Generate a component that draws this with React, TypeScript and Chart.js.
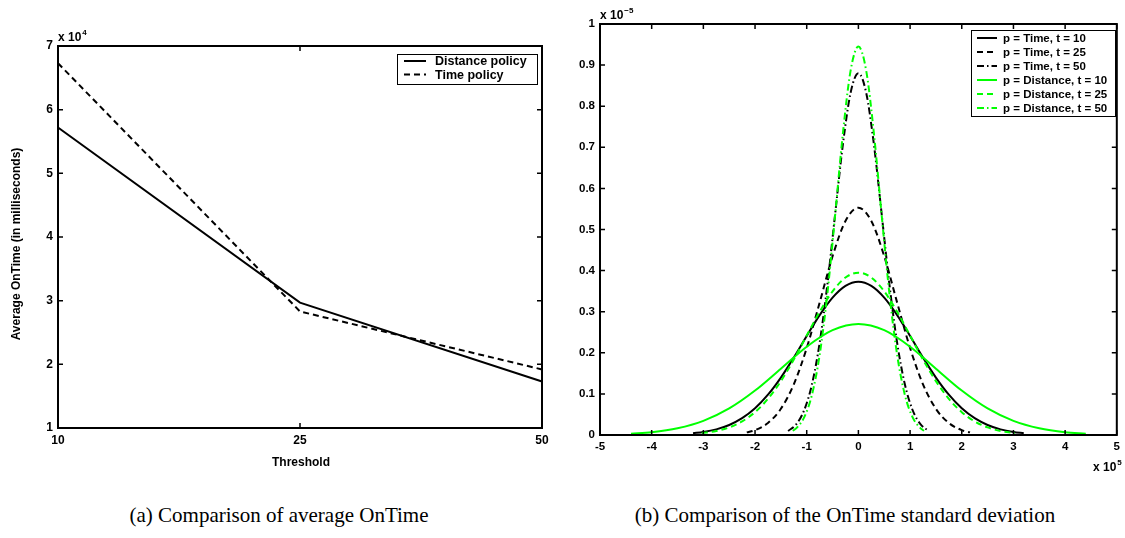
import React, { useEffect, useRef } from "react";
import { Chart, registerables } from "chart.js";

Chart.register(...registerables);

const FONT = '"Liberation Sans", Arial, Helvetica, sans-serif';
const SERIF = '"Liberation Serif", "Times New Roman", Times, serif';

// ---------- (a) Comparison of average OnTime ----------
const thresholdLabels = ["10", "25", "50"];
const distancePolicy = [57200, 29700, 17300];
const timePolicy = [67300, 28300, 19200];

// ---------- (b) OnTime standard deviation (x in 10^5, y in 10^-5) ----------
const timeT10X = [-3.2, -3, -2.75, -2.5, -2.25, -2, -1.75, -1.5, -1.25, -1, -0.75, -0.5, -0.25, 0, 0.25, 0.5, 0.75, 1, 1.25, 1.5, 1.75, 2, 2.25, 2.5, 2.75, 3, 3.2];
const timeT10Y = [0.0043, 0.0073, 0.0137, 0.0244, 0.0409, 0.065, 0.098, 0.1397, 0.1886, 0.241, 0.2918, 0.3344, 0.363, 0.373, 0.363, 0.3344, 0.2918, 0.241, 0.1886, 0.1397, 0.098, 0.065, 0.0409, 0.0244, 0.0137, 0.0073, 0.0043];

const timeT25X = [-2.16, -2, -1.75, -1.5, -1.25, -1, -0.75, -0.5, -0.25, 0, 0.25, 0.5, 0.75, 1, 1.25, 1.5, 1.75, 2, 2.16];
const timeT25Y = [0.0063, 0.0119, 0.0292, 0.0637, 0.1233, 0.2116, 0.3221, 0.4349, 0.5208, 0.553, 0.5208, 0.4349, 0.3221, 0.2116, 0.1233, 0.0637, 0.0292, 0.0119, 0.0063];

const timeT50X = [-1.36, -1.2, -1.05, -0.9, -0.75, -0.6, -0.45, -0.3, -0.15, 0, 0.15, 0.3, 0.45, 0.6, 0.75, 0.9, 1.05, 1.2, 1.36];
const timeT50Y = [0.0098, 0.0265, 0.0602, 0.1227, 0.224, 0.3665, 0.5377, 0.7069, 0.8331, 0.88, 0.8331, 0.7069, 0.5377, 0.3665, 0.224, 0.1227, 0.0602, 0.0265, 0.0098];

const distT10X = [-4.4, -4, -3.5, -3, -2.5, -2, -1.5, -1, -0.5, 0, 0.5, 1, 1.5, 2, 2.5, 3, 3.5, 4, 4.4];
const distT10Y = [0.0032, 0.0069, 0.0164, 0.0344, 0.0646, 0.1081, 0.1613, 0.2148, 0.255, 0.27, 0.255, 0.2148, 0.1613, 0.1081, 0.0646, 0.0344, 0.0164, 0.0069, 0.0032];

const distT25X = [-3.03, -2.75, -2.5, -2.25, -2, -1.75, -1.5, -1.25, -1, -0.75, -0.5, -0.25, 0, 0.25, 0.5, 0.75, 1, 1.25, 1.5, 1.75, 2, 2.25, 2.5, 2.75, 3.03];
const distT25Y = [0.0044, 0.0097, 0.0185, 0.033, 0.0556, 0.088, 0.1311, 0.1836, 0.2419, 0.2998, 0.3495, 0.3831, 0.395, 0.3831, 0.3495, 0.2998, 0.2419, 0.1836, 0.1311, 0.088, 0.0556, 0.033, 0.0185, 0.0097, 0.0044];

const distT50X = [-1.27, -1.2, -1.05, -0.9, -0.75, -0.6, -0.45, -0.3, -0.15, 0, 0.15, 0.3, 0.45, 0.6, 0.75, 0.9, 1.05, 1.2, 1.27];
const distT50Y = [0.0102, 0.0166, 0.0428, 0.0972, 0.1948, 0.344, 0.5352, 0.734, 0.8872, 0.945, 0.8872, 0.734, 0.5352, 0.344, 0.1948, 0.0972, 0.0428, 0.0166, 0.0102];

const captionA = "(a) Comparison of average OnTime";
const captionB = "(b) Comparison of the OnTime standard deviation";

const pts = (xs: number[], ys: number[]) => xs.map((x, i) => ({ x, y: ys[i] }));

const GREEN = "#00ff00";
const DASH = [6, 4];
const DASHDOT = [7, 3, 1.5, 3];

const decoPlugin = {
  id: "deco",
  afterDraw(chart: any, _args: any, opts: any) {
    const ctx: CanvasRenderingContext2D = chart.ctx;
    const { left, right, top, bottom } = chart.chartArea;
    ctx.save();
    ctx.strokeStyle = "#000";
    ctx.setLineDash([]);
    ctx.lineWidth = 1.5;
    const tl = 5;
    const xs = chart.scales.x;
    const ys = chart.scales.y;
    ctx.beginPath();
    xs.ticks.forEach((_t: any, i: number) => {
      const p = xs.getPixelForTick(i);
      ctx.moveTo(p, bottom);
      ctx.lineTo(p, bottom - tl);
      ctx.moveTo(p, top);
      ctx.lineTo(p, top + tl);
    });
    ys.ticks.forEach((_t: any, i: number) => {
      const p = ys.getPixelForTick(i);
      ctx.moveTo(left, p);
      ctx.lineTo(left + tl, p);
      ctx.moveTo(right, p);
      ctx.lineTo(right - tl, p);
    });
    ctx.stroke();
    ctx.lineWidth = 2;
    ctx.strokeRect(left, top, right - left, bottom - top);

    // exponent labels
    ctx.fillStyle = "#000";
    (opts.exps || []).forEach((e: any) => {
      ctx.font = `bold 12px ${FONT}`;
      ctx.textAlign = "left";
      ctx.textBaseline = "alphabetic";
      ctx.fillText(e.base, e.x, e.y);
      const w = ctx.measureText(e.base).width;
      ctx.font = `bold 8px ${FONT}`;
      ctx.fillText(e.sup, e.x + w + 1, e.y - 6);
    });

    // axis titles
    (opts.titles || []).forEach((t: any) => {
      ctx.save();
      ctx.font = `bold 12px ${FONT}`;
      ctx.textAlign = "center";
      ctx.textBaseline = "middle";
      ctx.translate(t.x, t.y);
      if (t.rotate) ctx.rotate(-Math.PI / 2);
      ctx.fillText(t.text, 0, 0);
      ctx.restore();
    });

    // legend
    const lg = opts.legend;
    if (lg) {
      ctx.fillStyle = "#fff";
      ctx.fillRect(lg.x, lg.y, lg.w, lg.h);
      ctx.lineWidth = 1;
      ctx.strokeStyle = "#000";
      ctx.strokeRect(lg.x + 0.5, lg.y + 0.5, lg.w, lg.h);
      chart.data.datasets.forEach((ds: any, i: number) => {
        const y = lg.row0 + i * lg.step;
        ctx.beginPath();
        ctx.setLineDash(ds.borderDash || []);
        ctx.strokeStyle = ds.borderColor;
        ctx.lineWidth = 2;
        ctx.moveTo(lg.s0, y);
        ctx.lineTo(lg.s1, y);
        ctx.stroke();
        ctx.setLineDash([]);
        ctx.fillStyle = "#000";
        ctx.font = `bold ${lg.size}px ${FONT}`;
        ctx.textAlign = "left";
        ctx.textBaseline = "middle";
        ctx.fillText(ds.label, lg.tx, y + 0.5);
      });
    }
    ctx.restore();
  },
};

const tickFont = (size: number) => ({ family: FONT, size, weight: "bold" as const });

const leftConfig: any = {
  type: "line",
  data: {
    labels: thresholdLabels,
    datasets: [
      { label: "Distance policy", data: distancePolicy, borderColor: "#000", borderWidth: 2, pointRadius: 0, tension: 0 },
      { label: "Time policy", data: timePolicy, borderColor: "#000", borderWidth: 2, borderDash: DASH, pointRadius: 0, tension: 0 },
    ],
  },
  options: {
    animation: false,
    responsive: false,
    devicePixelRatio: 1,
    layout: { padding: { top: 46, right: 18, left: 0, bottom: 0 } },
    plugins: {
      legend: { display: false },
      tooltip: { enabled: false },
      deco: {
        exps: [{ base: "x 10", sup: "4", x: 58, y: 41 }],
        titles: [
          { text: "Threshold", x: 301, y: 463 },
          { text: "Average OnTime (in milliseconds)", x: 17, y: 244, rotate: true },
        ],
        legend: { x: 397, y: 54, w: 140, h: 30, row0: 61, step: 13.6, s0: 404, s1: 426, tx: 435, size: 12.5 },
      },
    },
    scales: {
      x: {
        type: "category",
        offset: false,
        grid: { display: false, drawTicks: false },
        border: { display: false },
        ticks: { color: "#000", font: tickFont(12), padding: 5, maxRotation: 0, autoSkip: false },
        afterFit: (s: any) => { s.height = 52; },
      },
      y: {
        min: 10000,
        max: 70000,
        grid: { display: false, drawTicks: false },
        border: { display: false },
        ticks: { color: "#000", font: tickFont(12), padding: 5, stepSize: 10000, callback: (v: any) => String(Math.round(v / 10000)) },
        afterFit: (s: any) => { s.width = 58; },
      },
    },
  },
  plugins: [decoPlugin],
};

const curve = (label: string, xs: number[], ys: number[], color: string, dash: number[], order: number) => ({
  label,
  data: pts(xs, ys),
  borderColor: color,
  borderWidth: 2,
  borderDash: dash,
  pointRadius: 0,
  cubicInterpolationMode: "monotone",
  fill: false,
  order,
});

const rightConfig: any = {
  type: "line",
  data: {
    datasets: [
      curve("p = Time, t = 10", timeT10X, timeT10Y, "#000", [], 6),
      curve("p = Time, t = 25", timeT25X, timeT25Y, "#000", DASH, 5),
      curve("p = Time, t = 50", timeT50X, timeT50Y, "#000", DASHDOT, 4),
      curve("p = Distance, t = 10", distT10X, distT10Y, GREEN, [], 3),
      curve("p = Distance, t = 25", distT25X, distT25Y, GREEN, DASH, 2),
      curve("p = Distance, t = 50", distT50X, distT50Y, GREEN, DASHDOT, 1),
    ],
  },
  options: {
    animation: false,
    responsive: false,
    devicePixelRatio: 1,
    layout: { padding: { top: 24, right: 6, left: 0, bottom: 0 } },
    plugins: {
      legend: { display: false },
      tooltip: { enabled: false },
      deco: {
        exps: [
          { base: "x 10", sup: "\u22125", x: 40, y: 19 },
          { base: "x 10", sup: "5", x: 533, y: 471 },
        ],
        legend: { x: 411, y: 30, w: 144, h: 86, row0: 38, step: 14, s0: 417, s1: 437, tx: 443, size: 11.5 },
      },
    },
    scales: {
      x: {
        type: "linear",
        min: -5,
        max: 5,
        grid: { display: false, drawTicks: false },
        border: { display: false },
        ticks: { color: "#000", font: tickFont(11.5), padding: 5, stepSize: 1, maxRotation: 0, callback: (v: any) => String(Math.round(v)) },
        afterFit: (s: any) => { s.height = 45; },
      },
      y: {
        type: "linear",
        min: 0,
        max: 1,
        grid: { display: false, drawTicks: false },
        border: { display: false },
        ticks: { color: "#000", font: tickFont(11.5), padding: 5, stepSize: 0.1, callback: (v: any) => String(Number(Number(v).toFixed(1))) },
        afterFit: (s: any) => { s.width = 40; },
      },
    },
  },
  plugins: [decoPlugin],
};

function ChartCanvas({ config, left, width, height }: { config: any; left: number; width: number; height: number }) {
  const ref = useRef<HTMLCanvasElement>(null);
  useEffect(() => {
    const chart = new Chart(ref.current as HTMLCanvasElement, config);
    return () => chart.destroy();
  }, [config]);
  return (
    <canvas
      ref={ref}
      width={width}
      height={height}
      style={{ position: "absolute", left, top: 0, width, height, display: "block" }}
    />
  );
}

export default function App() {
  const capStyle = (cx: number): React.CSSProperties => ({
    position: "absolute",
    left: cx,
    top: 503,
    transform: "translateX(-50%)",
    whiteSpace: "nowrap",
    fontFamily: SERIF,
    fontSize: 21,
    lineHeight: "24px",
    color: "#000",
  });
  return (
    <div style={{ position: "fixed", left: 0, top: 0, width: 1125, height: 538, background: "#fff", overflow: "hidden" }}>
      <ChartCanvas config={leftConfig} left={0} width={560} height={480} />
      <ChartCanvas config={rightConfig} left={560} width={565} height={480} />
      <div style={capStyle(279)}>{captionA}</div>
      <div style={capStyle(845)}>{captionB}</div>
    </div>
  );
}
